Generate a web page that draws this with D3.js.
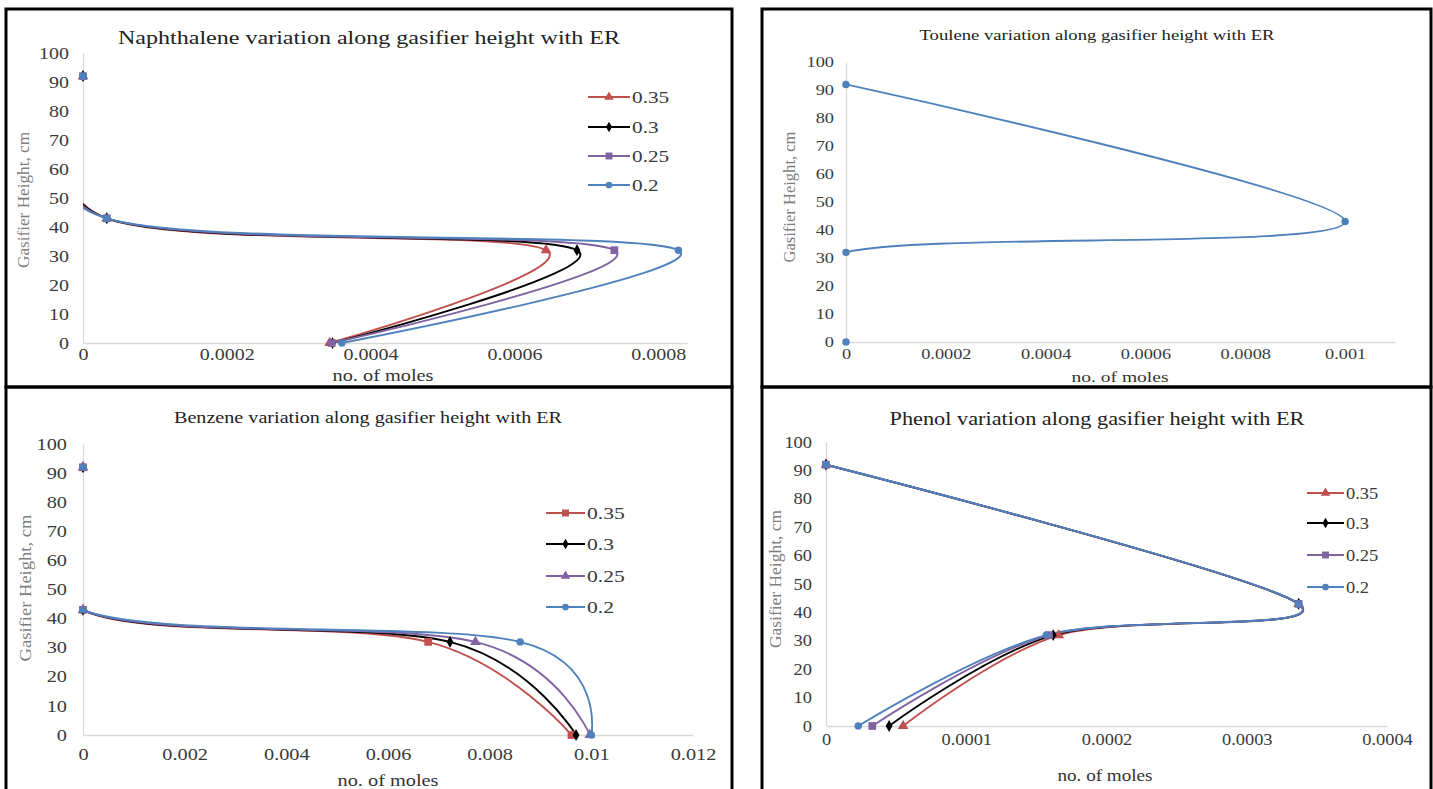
<!DOCTYPE html>
<html>
<head>
  <meta charset="UTF-8">
  <title>Tar compounds along gasifier height with ER</title>
  <script src="https://d3js.org/d3.v7.min.js"></script>
  <style>
    body { margin: 0; background: #fff; }
    svg { display: block; }
  </style>
</head>
<body>
<svg id="chart" width="1433" height="789"></svg>
<script>

// Sampling heights along the gasifier (cm), same for every compound
const heights = [92, 43, 32, 0];

// Equivalence ratios (legend order)
const erLabels = ['0.35', '0.3', '0.25', '0.2'];

// no. of moles at each height, one row per ER
const naphthaleneMoles = [
  [0, 0.000033, 0.000644, 0.000343],
  [0, 0.000033, 0.000687, 0.000347],
  [0, 0.000033, 0.000739, 0.000346],
  [0, 0.000033, 0.000828, 0.000360]
];
const tolueneMoles = [
  [0, 0.001, 0, 0]
];
const benzeneMoles = [
  [0, 0, 0.00679, 0.00961],
  [0, 0, 0.00722, 0.00970],
  [0, 0, 0.00772, 0.00997],
  [0, 0, 0.00860, 0.01000]
];
const phenolMoles = [
  [0, 0.000337, 0.000166, 0.000055],
  [0, 0.000337, 0.000162, 0.000045],
  [0, 0.000337, 0.000159, 0.000033],
  [0, 0.000337, 0.000157, 0.000023]
];

// Axis ticks and their labels
const heightTicks = [0, 10, 20, 30, 40, 50, 60, 70, 80, 90, 100];
const naphthaleneTicks = [0, 0.0002, 0.0004, 0.0006, 0.0008];
const naphthaleneTickLabels = ['0', '0.0002', '0.0004', '0.0006', '0.0008'];
const tolueneTicks = [0, 0.0002, 0.0004, 0.0006, 0.0008, 0.001];
const tolueneTickLabels = ['0', '0.0002', '0.0004', '0.0006', '0.0008', '0.001'];
const benzeneTicks = [0, 0.002, 0.004, 0.006, 0.008, 0.01, 0.012];
const benzeneTickLabels = ['0', '0.002', '0.004', '0.006', '0.008', '0.01', '0.012'];
const phenolTicks = [0, 0.0001, 0.0002, 0.0003, 0.0004];
const phenolTickLabels = ['0', '0.0001', '0.0002', '0.0003', '0.0004'];

const seriesColors = ['#c0504d', '#000000', '#8064a2', '#4f81bd'];
const font = "'Liberation Serif', 'Times New Roman', serif";

const svg = d3.select('#chart');

const symbolTypes = {
  triangle: { type: d3.symbolTriangle, size: 50 },
  diamond: { type: d3.symbolDiamond, size: 40 },
  square: { type: d3.symbolSquare, size: 60 },
  circle: { type: d3.symbolCircle, size: 44 }
};

// stretch a text horizontally like the (resized) picture
function stretch(sel, sx) {
  sel.each(function () {
    const w = this.getComputedTextLength();
    d3.select(this).attr('textLength', w * sx).attr('lengthAdjust', 'spacingAndGlyphs');
  });
}

let clipId = 0;

function drawPanel(p) {
  const g = svg.append('g');

  // panel frame
  g.append('rect')
    .attr('x', p.box[0]).attr('y', p.box[1])
    .attr('width', p.box[2] - p.box[0]).attr('height', p.box[3] - p.box[1])
    .attr('fill', 'none').attr('stroke', '#000').attr('stroke-width', 3);

  const x = d3.scaleLinear().domain([0, p.xMax]).range(p.xRange);
  const y = d3.scaleLinear().domain([0, 100]).range(p.yRange);

  // x-axis
  const gx = g.append('g')
    .attr('transform', `translate(0, ${y(0)})`)
    .call(d3.axisBottom(x).tickValues(p.ticks)
      .tickFormat((d, i) => p.tickLabels[i])
      .tickSize(0).tickPadding(p.xPad));

  // y-axis
  const gy = g.append('g')
    .attr('transform', `translate(${x(0)}, 0)`)
    .call(d3.axisLeft(y).tickValues(heightTicks).tickSize(0).tickPadding(p.yPad));

  [gx, gy].forEach(a => {
    a.attr('font-family', null).attr('font-size', null);
    a.select('.domain').attr('stroke', '#d9d9d9').attr('stroke-width', 1.3);
    a.selectAll('text')
      .style('font-family', font)
      .style('font-size', p.tickFont + 'px')
      .attr('fill', '#3a3a3a');
    stretch(a.selectAll('text'), p.sx);
  });

  // clip the smoothed lines to the plot area
  const id = 'clip' + (clipId++);
  g.append('clipPath').attr('id', id)
    .append('rect')
    .attr('x', p.xRange[0]).attr('y', p.yRange[1])
    .attr('width', p.xRange[1] - p.xRange[0])
    .attr('height', p.yRange[0] - p.yRange[1]);

  const line = d3.line()
    .x(d => x(d))
    .y((d, i) => y(heights[i]))
    .curve(d3.curveCardinal.tension(0));

  p.data.forEach((row, s) => {
    g.append('path')
      .attr('d', line(row))
      .attr('fill', 'none')
      .attr('stroke', p.colors[s])
      .attr('stroke-width', 1.9)
      .attr('clip-path', `url(#${id})`);
  });

  // markers
  p.data.forEach((row, s) => {
    const sym = symbolTypes[p.markers[s]];
    g.selectAll(null)
      .data(row)
      .enter()
      .append('path')
        .attr('d', d3.symbol().type(sym.type).size(sym.size))
        .attr('transform', (d, i) => `translate(${x(d)}, ${y(heights[i])})`)
        .attr('fill', p.colors[s]);
  });

  // chart title
  g.append('text')
    .attr('x', p.title.x).attr('y', p.title.y).attr('dy', '0.35em')
    .attr('text-anchor', 'middle')
    .style('font-family', font).style('font-size', p.title.size + 'px')
    .attr('fill', '#222')
    .attr('textLength', p.title.len).attr('lengthAdjust', 'spacingAndGlyphs')
    .text(p.title.text);

  // x-axis label
  g.append('text')
    .attr('x', p.xTitle.x).attr('y', p.xTitle.y).attr('dy', '0.35em')
    .attr('text-anchor', 'middle')
    .style('font-family', font).style('font-size', p.xTitle.size + 'px')
    .attr('fill', '#333')
    .attr('textLength', p.xTitle.len).attr('lengthAdjust', 'spacingAndGlyphs')
    .text('no. of moles');

  // y-axis label
  g.append('text')
    .attr('transform', `translate(${p.yTitle.x}, ${p.yTitle.y}) rotate(-90)`)
    .attr('dy', '0.35em')
    .attr('text-anchor', 'middle')
    .style('font-family', font).style('font-size', '17px')
    .attr('fill', '#7f7f7f')
    .attr('textLength', p.yTitle.len).attr('lengthAdjust', 'spacingAndGlyphs')
    .text('Gasifier Height, cm');

  // legend
  if (p.legend) {
    const L = p.legend;
    erLabels.forEach((lab, s) => {
      const ly = L.ys[s];
      g.append('line')
        .attr('x1', L.x0).attr('x2', L.x1).attr('y1', ly).attr('y2', ly)
        .attr('stroke', p.colors[s]).attr('stroke-width', 1.9);
      const sym = symbolTypes[p.markers[s]];
      g.append('path')
        .attr('d', d3.symbol().type(sym.type).size(sym.size * 0.8))
        .attr('transform', `translate(${(L.x0 + L.x1) / 2}, ${ly})`)
        .attr('fill', p.colors[s]);
      const t = g.append('text')
        .attr('x', L.x1 + 2).attr('y', ly).attr('dy', '0.35em')
        .style('font-family', font).style('font-size', L.size + 'px')
        .attr('fill', '#3a3a3a')
        .text(lab);
      stretch(t, p.sx);
    });
  }
}

// Naphthalene
drawPanel({
  box: [6, 9, 732, 387],
  xMax: 0.00084, xRange: [83, 687], yRange: [343, 53],
  ticks: naphthaleneTicks, tickLabels: naphthaleneTickLabels,
  xPad: 6, yPad: 14, tickFont: 16, sx: 1.25,
  data: naphthaleneMoles, colors: seriesColors,
  markers: ['triangle', 'diamond', 'square', 'circle'],
  title: { text: 'Naphthalene variation along gasifier height with ER', x: 369, y: 37, size: 19, len: 502 },
  xTitle: { x: 383, y: 375, size: 16, len: 101 },
  yTitle: { x: 23, y: 200, len: 136 },
  legend: { x0: 588, x1: 630, ys: [97, 127, 156, 185], size: 17 }
});

// Toluene
drawPanel({
  box: [762, 9, 1431, 387],
  xMax: 0.0011, xRange: [846, 1395], yRange: [342, 62],
  ticks: tolueneTicks, tickLabels: tolueneTickLabels,
  xPad: 6, yPad: 12, tickFont: 15, sx: 1.22,
  data: tolueneMoles, colors: ['#4f81bd'],
  markers: ['circle'],
  title: { text: 'Toulene variation along gasifier height with ER', x: 1097, y: 35, size: 15, len: 355 },
  xTitle: { x: 1120, y: 377, size: 15, len: 97 },
  yTitle: { x: 789, y: 197, len: 131 },
  legend: null
});

// Benzene
drawPanel({
  box: [6, 387, 732, 792],
  xMax: 0.012, xRange: [83, 693], yRange: [735, 444],
  ticks: benzeneTicks, tickLabels: benzeneTickLabels,
  xPad: 14, yPad: 16, tickFont: 16, sx: 1.27,
  data: benzeneMoles, colors: seriesColors,
  markers: ['square', 'diamond', 'triangle', 'circle'],
  title: { text: 'Benzene variation along gasifier height with ER', x: 368, y: 417, size: 16, len: 388 },
  xTitle: { x: 388, y: 780, size: 16, len: 101 },
  yTitle: { x: 25, y: 588, len: 147 },
  legend: { x0: 546, x1: 585, ys: [513, 544, 576, 607], size: 17 }
});

// Phenol
drawPanel({
  box: [762, 387, 1431, 792],
  xMax: 0.0004, xRange: [826, 1387], yRange: [726, 442],
  ticks: phenolTicks, tickLabels: phenolTickLabels,
  xPad: 8, yPad: 14, tickFont: 16, sx: 1.15,
  data: phenolMoles, colors: seriesColors,
  markers: ['triangle', 'diamond', 'square', 'circle'],
  title: { text: 'Phenol variation along gasifier height with ER', x: 1097, y: 418, size: 19, len: 415 },
  xTitle: { x: 1105, y: 775, size: 17, len: 95 },
  yTitle: { x: 775, y: 579, len: 138 },
  legend: { x0: 1307, x1: 1344, ys: [493, 523, 555, 587], size: 16 }
});

</script>
</body>
</html>
